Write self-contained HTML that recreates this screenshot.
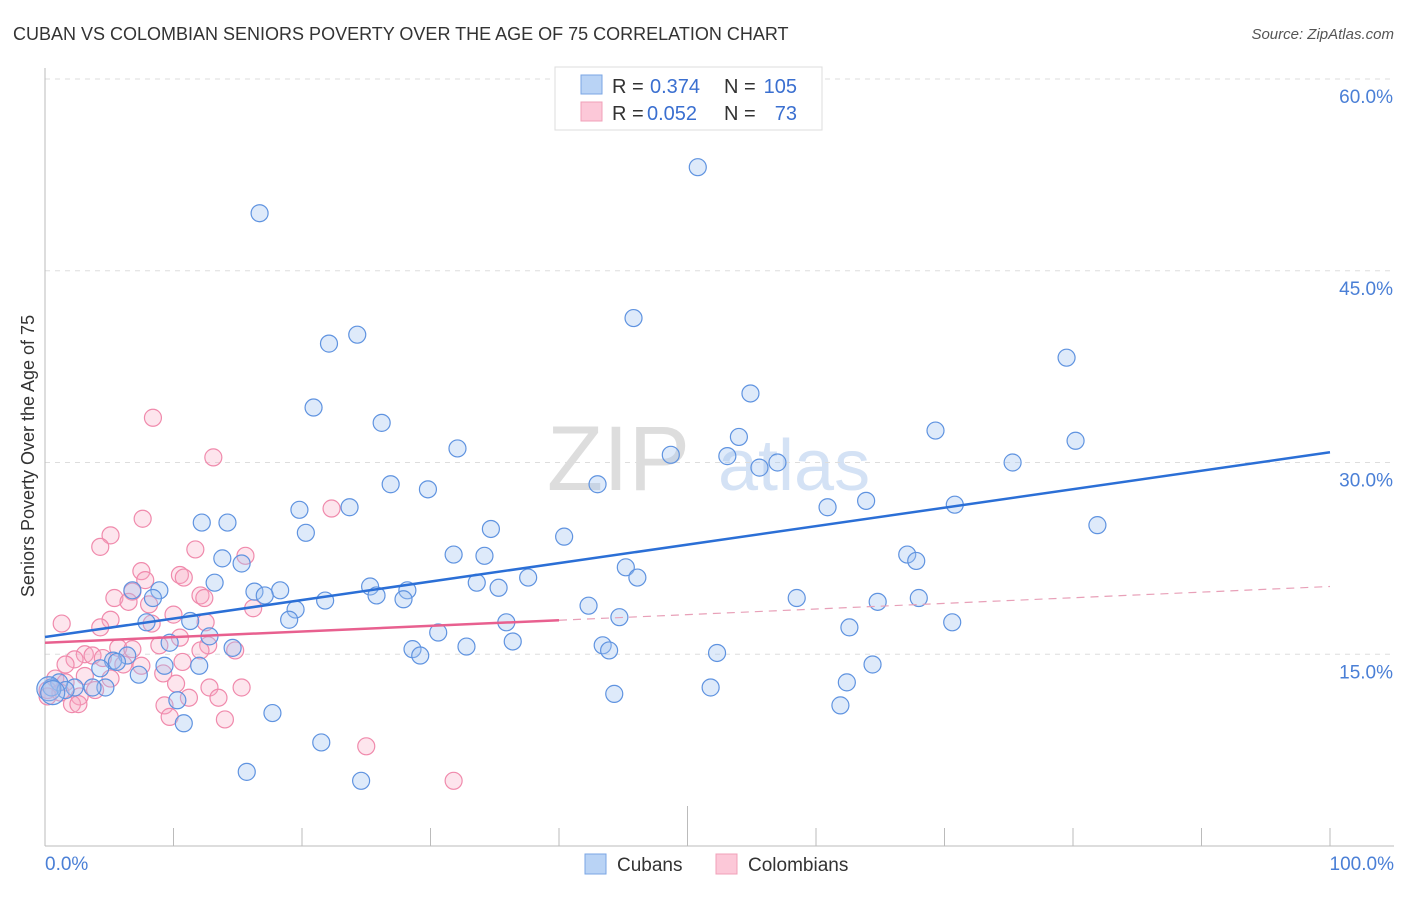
<!DOCTYPE html>
<html><head><meta charset="utf-8"><style>
body{margin:0;background:#fff;font-family:"Liberation Sans",sans-serif}
svg text{font-family:"Liberation Sans",sans-serif}
</style></head><body>
<svg id="chart" width="1406" height="892" xmlns="http://www.w3.org/2000/svg">
<text x="13" y="40" font-size="18" fill="#333">CUBAN VS COLOMBIAN SENIORS POVERTY OVER THE AGE OF 75 CORRELATION CHART</text>
<text x="1394" y="39" font-size="15" fill="#555" text-anchor="end" font-style="italic">Source: ZipAtlas.com</text>
<text x="690" y="490" font-size="92" fill="#ddd" text-anchor="end" font-family="Liberation Serif">ZIP</text>
<text x="718" y="490" font-size="72" fill="#d4e2f5">atlas</text>
<g id="grid"></g>
<g id="axes"></g>
<g id="marks"></g>
<text transform="translate(34,456) rotate(-90)" font-size="18" fill="#333" text-anchor="middle">Seniors Poverty Over the Age of 75</text>
<g>
<rect x="555" y="67" width="267" height="63" fill="#fff" stroke="#ddd"/>
<rect x="581" y="75" width="21" height="19" fill="#b9d3f5" stroke="#7aa6e4"/>
<rect x="581" y="102" width="21" height="19" fill="#fcc8d8" stroke="#f0a0b8"/>
<text x="612" y="93" font-size="20" fill="#333">R =</text><text x="650" y="93" font-size="20" fill="#3a6fd0">0.374</text>
<text x="724" y="93" font-size="20" fill="#333">N =</text><text x="797" y="93" font-size="20" fill="#3a6fd0" text-anchor="end">105</text>
<text x="612" y="120" font-size="20" fill="#333">R =</text><text x="647" y="120" font-size="20" fill="#3a6fd0">0.052</text>
<text x="724" y="120" font-size="20" fill="#333">N =</text><text x="797" y="120" font-size="20" fill="#3a6fd0" text-anchor="end">73</text>
</g>
<g>
<rect x="585" y="854" width="21" height="20" fill="#b9d3f5" stroke="#7aa6e4"/>
<text x="617" y="871" font-size="19" fill="#333">Cubans</text>
<rect x="716" y="854" width="21" height="20" fill="#fcc8d8" stroke="#f0a0b8"/>
<text x="748" y="871" font-size="19" fill="#333">Colombians</text>
</g>
</svg>
<script>
const yTicks=[15,30,45,60];
const yTickLabels=["15.0%","30.0%","45.0%","60.0%"];
const xTickLabels=["0.0%","100.0%"];
const cubanX=[16.7,50.8,45.8,24.3,22.1,79.5,54.9,20.9,26.2,69.3,54.0,80.2,32.1,48.7,53.1,57.0,55.6,75.3,43.0,26.9,29.8,63.9,70.8,60.9,23.7,19.8,12.2,14.2,81.9,34.7,20.3,40.4,67.1,31.8,34.2,67.8,13.8,15.3,45.2,37.6,46.1,33.6,13.2,25.3,35.3,28.2,18.3,16.3,8.9,6.8,25.8,17.1,27.9,58.5,68.0,8.4,21.8,64.8,42.3,19.5,44.7,19.0,70.6,35.9,11.3,7.9,62.6,30.6,12.8,36.4,32.8,9.7,43.4,14.6,28.6,43.9,29.2,52.3,6.4,5.3,5.6,12.0,9.3,64.4,4.3,7.3,62.4,4.7,51.8,3.7,2.3,1.1,0.5,1.6,44.3,10.3,61.9,17.7,10.8,21.5,15.7,24.6,0.3,0.6];
const cubanY=[49.5,53.1,41.3,40.0,39.3,38.2,35.4,34.3,33.1,32.5,32.0,31.7,31.1,30.6,30.5,30.0,29.6,30.0,28.3,28.3,27.9,27.0,26.7,26.5,26.5,26.3,25.3,25.3,25.1,24.8,24.5,24.2,22.8,22.8,22.7,22.3,22.5,22.1,21.8,21.0,21.0,20.6,20.6,20.3,20.2,20.0,20.0,19.9,20.0,20.0,19.6,19.6,19.3,19.4,19.4,19.4,19.2,19.1,18.8,18.5,17.9,17.7,17.5,17.5,17.6,17.5,17.1,16.7,16.4,16.0,15.6,15.9,15.7,15.5,15.4,15.3,14.9,15.1,14.9,14.5,14.4,14.1,14.1,14.2,13.9,13.4,12.8,12.4,12.4,12.4,12.4,12.8,12.4,12.2,11.9,11.4,11.0,10.4,9.6,8.1,5.8,5.1,12.3,12.0];
const colX=[8.4,13.1,22.3,7.6,5.1,4.3,11.7,15.6,7.5,10.5,10.8,7.8,6.8,12.1,5.4,12.4,6.5,8.1,16.2,10.0,5.1,1.3,12.5,8.3,4.3,10.5,12.7,8.9,14.8,5.7,6.8,12.1,3.1,3.7,4.5,2.3,10.7,6.1,1.6,7.5,9.2,3.1,5.1,0.8,1.6,10.2,12.8,15.3,0.2,1.2,3.9,2.7,0.2,11.2,13.5,2.1,2.6,9.3,9.7,14.0,25.0,31.8];
const colY=[33.5,30.4,26.4,25.6,24.3,23.4,23.2,22.7,21.5,21.2,21.0,20.8,19.9,19.6,19.4,19.4,19.1,18.9,18.6,18.1,17.7,17.4,17.5,17.4,17.1,16.3,15.7,15.7,15.3,15.5,15.4,15.3,15.0,14.9,14.7,14.6,14.4,14.2,14.2,14.1,13.5,13.3,13.1,13.1,12.8,12.7,12.4,12.4,12.2,12.0,12.2,11.7,11.7,11.6,11.6,11.1,11.1,11.0,10.1,9.9,7.8,5.1];
const cubanTrend=[16.35,30.8];
const colTrend=[15.9,20.3];
const colSolidEnd=40;

const X0=45,X1=1330,Y0=846,Y60=79;
const sx=v=>X0+(X1-X0)*v/100;
const sy=v=>Y0-(Y0-Y60)*v/60;
const NS="http://www.w3.org/2000/svg";
function mk(tag,attrs,parent){const e=document.createElementNS(NS,tag);for(const k in attrs)e.setAttribute(k,attrs[k]);document.getElementById(parent).appendChild(e);return e;}

mk('line',{x1:X0,y1:Y60,x2:1394,y2:Y60,stroke:'#ddd','stroke-dasharray':'5,5'},'grid');
yTicks.forEach((t,i)=>{
  const l=mk('line',{x1:X0,y1:sy(t),x2:1394,y2:sy(t),stroke:'#ddd','stroke-dasharray':'5,5'},'grid');
  
  
  const tx=mk('text',{x:1393,y:sy(t)+24,'font-size':19,fill:'#4a7fd6','text-anchor':'end'},'axes');
  tx.textContent=yTickLabels[i];
  
  
});
const ax=mk('line',{x1:X0,y1:68,x2:X0,y2:Y0,stroke:'#bbb'},'axes');


const bx=mk('line',{x1:X0,y1:Y0,x2:1394,y2:Y0,stroke:'#bbb'},'axes');


for(let i=0;i<=10;i++){
  const t=mk('line',{x1:sx(i*10),y1:Y0,x2:sx(i*10),y2:i==5?806:828,stroke:'#bbb'},'axes');
  
  
}
[[0,'start',45],[100,'end',1394]].forEach((d,i)=>{
  const t=mk('text',{x:d[2],y:870,'font-size':19,fill:'#4a7fd6','text-anchor':d[1]},'axes');
  t.textContent=xTickLabels[i];
  
  
});
colX.forEach((x,i)=>{
  const c=mk('circle',{cx:sx(x),cy:sy(colY[i]),r:8.5,fill:'rgba(248,170,195,0.3)',stroke:'#f08aac','stroke-width':1.2},'marks');
  
  
});
cubanX.forEach((x,i)=>{
  const c=mk('circle',{cx:sx(x),cy:sy(cubanY[i]),r:i>=102?12:8.5,fill:'rgba(160,195,240,0.35)',stroke:'#5f93e0','stroke-width':1.2},'marks');
  
  
});
const cy=x=>colTrend[0]+(colTrend[1]-colTrend[0])*x/100;
const l1=mk('line',{x1:sx(0),y1:sy(cubanTrend[0]),x2:sx(100),y2:sy(cubanTrend[1]),stroke:'#2b6fd6','stroke-width':2.5},'marks');


const l2=mk('line',{x1:sx(0),y1:sy(cy(0)),x2:sx(colSolidEnd),y2:sy(cy(colSolidEnd)),stroke:'#e8608f','stroke-width':2.5},'marks');


const l3=mk('line',{x1:sx(colSolidEnd),y1:sy(cy(colSolidEnd)),x2:sx(100),y2:sy(cy(100)),stroke:'#e8a0b8','stroke-width':1.2,'stroke-dasharray':'8,6'},'marks');


</script>
</body></html>
